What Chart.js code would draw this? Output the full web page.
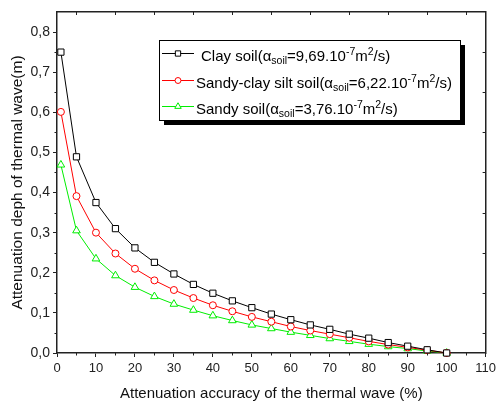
<!DOCTYPE html>
<html><head><meta charset="utf-8">
<script src="https://cdn.jsdelivr.net/npm/chart.js@4.4.0/dist/chart.umd.min.js"></script>
<style>html,body{margin:0;padding:0;background:#fff}#wrap{width:500px;height:405px;position:relative}</style>
</head><body><div id="wrap"><canvas id="c" width="500" height="405"></canvas></div>
<script>
// ---- data ----
const xValues   = [1, 5, 10, 15, 20, 25, 30, 35, 40, 45, 50, 55, 60, 65, 70, 75, 80, 85, 90, 95, 100];
const clay      = [0.750, 0.489, 0.375, 0.310, 0.262, 0.226, 0.197, 0.171, 0.149, 0.130, 0.113, 0.097, 0.083, 0.070, 0.059, 0.047, 0.037, 0.026, 0.017, 0.008, 0.000];
const sandyClay = [0.601, 0.391, 0.300, 0.248, 0.210, 0.181, 0.157, 0.137, 0.119, 0.104, 0.090, 0.078, 0.066, 0.056, 0.047, 0.038, 0.029, 0.021, 0.014, 0.007, 0.000];
const sandy     = [0.469, 0.305, 0.235, 0.193, 0.164, 0.141, 0.122, 0.107, 0.093, 0.081, 0.070, 0.061, 0.052, 0.044, 0.036, 0.029, 0.022, 0.016, 0.011, 0.005, 0.000];
const xTicks = [0, 10, 20, 30, 40, 50, 60, 70, 80, 90, 100, 110];
const yTicks = [0, 0.1, 0.2, 0.3, 0.4, 0.5, 0.6, 0.7, 0.8];
const xMinor = [5, 15, 25, 35, 45, 55, 65, 75, 85, 95, 105];
const yMinor = [0.05, 0.15, 0.25, 0.35, 0.45, 0.55, 0.65, 0.75];
const xTitle = "Attenuation accuracy of the thermal wave (%)";
const yTitle = "Attenuation deph of thermal wave(m)";
// legend entries: [text, style] pieces; style n=normal, b=subscript, p=superscript
const legendEntries = [
  [["Clay soil(", "n"], ["\u03b1", "n"], ["soil", "b"], ["=9,69.10", "n"], ["-7", "p"], ["m", "n"], ["2", "p"], ["/s)", "n"]],
  [["Sandy-clay silt soil(", "n"], ["\u03b1", "n"], ["soil", "b"], ["=6,22.10", "n"], ["-7", "p"], ["m", "n"], ["2", "p"], ["/s)", "n"]],
  [["Sandy soil(", "n"], ["\u03b1", "n"], ["soil", "b"], ["=3,76.10", "n"], ["-7", "p"], ["m", "n"], ["2", "p"], ["/s)", "n"]]
];
const colors = ["#000000", "#ff0000", "#00ee00"];
const styles = ["rect", "circle", "triangle"];
const radii = [4.4, 3.5, 4.4];

const FONT = "'Liberation Sans', Arial, sans-serif";
const AX = "#222222";

function mk(vals) { return xValues.map((x, i) => ({x: x, y: vals[i]})); }
const allSeries = [clay, sandyClay, sandy];

const datasets = allSeries.map((s, i) => ({
  label: legendEntries[i].map(p => p[0]).join(""),
  data: mk(s),
  borderColor: colors[i],
  borderWidth: 1,
  pointStyle: styles[i],
  pointRadius: radii[i],
  pointBorderWidth: 1,
  pointBorderColor: colors[i],
  pointBackgroundColor: "#ffffff",
  tension: 0,
  clip: false
}));

const decor = {
  id: "decor",
  afterDraw(chart) {
    const ctx = chart.ctx;
    const xs = chart.scales.x, ys = chart.scales.y;
    const a = chart.chartArea;
    ctx.save();
    ctx.strokeStyle = AX;
    ctx.lineWidth = 1;
    ctx.beginPath();
    xMinor.forEach(v => {
      const px = Math.round(xs.getPixelForValue(v)) + 0.5;
      ctx.moveTo(px, a.bottom); ctx.lineTo(px, a.bottom + 2.5);
      ctx.moveTo(px, a.top); ctx.lineTo(px, a.top + 3);
    });
    yMinor.forEach(v => {
      const py = Math.round(ys.getPixelForValue(v)) + 0.5;
      ctx.moveTo(a.left, py); ctx.lineTo(a.left - 2.5, py);
      ctx.moveTo(a.right, py); ctx.lineTo(a.right - 3, py);
    });
    ctx.stroke();

    // axis titles
    ctx.fillStyle = "#111";
    ctx.textAlign = "center";
    ctx.textBaseline = "alphabetic";
    ctx.font = "15px " + FONT;
    ctx.fillText(xTitle, (a.left + a.right) / 2, 398);
    ctx.save();
    ctx.translate(18, (a.top + a.bottom) / 2);
    ctx.rotate(-Math.PI / 2);
    ctx.font = "15.5px " + FONT;
    ctx.textBaseline = "middle";
    ctx.fillText(yTitle, 0, 0);
    ctx.restore();

    // legend box with shadow
    const bx = 159, by = 40, bw = 301, bh = 80;
    ctx.fillStyle = "#000";
    ctx.fillRect(bx + 5, by + 5, bw, bh);
    ctx.fillStyle = "#fff";
    ctx.fillRect(bx, by, bw, bh);
    ctx.strokeStyle = "#000";
    ctx.lineWidth = 1;
    ctx.strokeRect(bx + 0.5, by + 0.5, bw, bh);

    const rows = [53, 80, 106];
    const textX = [201, 196, 196];
    legendEntries.forEach((entry, i) => {
      const y = rows[i];
      ctx.strokeStyle = colors[i];
      ctx.lineWidth = 1;
      ctx.beginPath();
      ctx.moveTo(162, y + 0.5); ctx.lineTo(194, y + 0.5);
      ctx.stroke();
      ctx.fillStyle = "#fff";
      ctx.strokeStyle = colors[i];
      Chart.helpers.drawPoint(ctx, {pointStyle: styles[i], radius: radii[i] * 0.85, borderWidth: 1}, 178, y + 0.5);
      ctx.fillStyle = "#000";
      ctx.textAlign = "left";
      ctx.textBaseline = "alphabetic";
      let x = textX[i];
      const base = y + 8;
      entry.forEach(([t, st]) => {
        let dy = 0;
        if (st === "n") { ctx.font = "15px " + FONT; }
        else if (st === "b") { ctx.font = "10.5px " + FONT; dy = 3; }
        else { ctx.font = "10.5px " + FONT; dy = -6; }
        ctx.fillText(t, x, base + dy);
        x += ctx.measureText(t).width;
      });
    });
    ctx.restore();
  }
};

new Chart(document.getElementById("c"), {
  type: "line",
  data: { datasets: datasets },
  options: {
    responsive: false,
    devicePixelRatio: 1,
    animation: false,
    layout: { padding: 0 },
    plugins: { legend: { display: false }, tooltip: { enabled: false } },
    scales: {
      x: {
        type: "linear", position: "bottom", min: 0, max: 110,
        afterBuildTicks: s => { s.ticks = xTicks.map(v => ({value: v})); },
        afterFit: s => { s.height = 52; },
        ticks: { font: { size: 13, family: FONT }, color: AX, padding: 4, maxRotation: 0, autoSkip: false,
                 callback: v => String(v) },
        grid: { drawOnChartArea: false, tickLength: 4, tickColor: AX, tickWidth: 1 },
        border: { color: AX, width: 1.5 }
      },
      xTop: {
        type: "linear", position: "top", min: 0, max: 110,
        afterFit: s => { s.height = 12; },
        ticks: { display: false },
        grid: { display: false },
        border: { display: true, color: AX, width: 1.5 }
      },
      y: {
        type: "linear", position: "left", min: 0, max: 0.85,
        afterBuildTicks: s => { s.ticks = yTicks.map(v => ({value: v})); },
        afterFit: s => { s.width = 57; },
        ticks: { font: { size: 14, family: FONT }, color: AX, padding: 3,
                 callback: v => v.toFixed(1).replace(".", ",") },
        grid: { drawOnChartArea: false, tickLength: 4, tickColor: AX, tickWidth: 1 },
        border: { color: AX, width: 1.5 }
      },
      yRight: {
        type: "linear", position: "right", min: 0, max: 0.85,
        afterFit: s => { s.width = 10; },
        ticks: { display: false },
        grid: { display: false },
        border: { display: true, color: AX, width: 1.5 }
      }
    }
  },
  plugins: [decor]
});
</script>
</body></html>
